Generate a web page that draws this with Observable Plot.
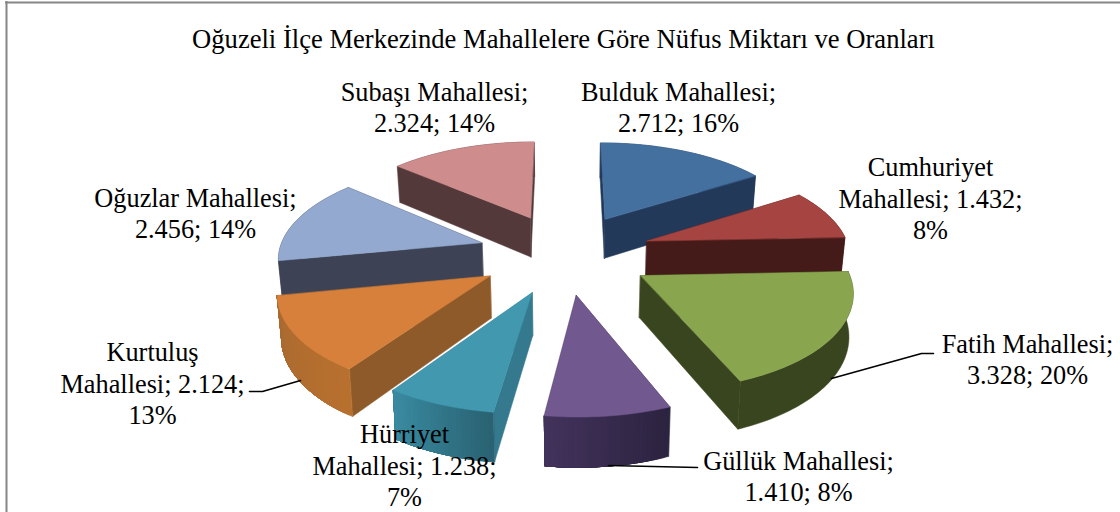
<!DOCTYPE html>
<html>
<head>
<meta charset="utf-8">
<script src="https://cdn.jsdelivr.net/npm/d3@7"></script>
<script src="https://cdn.jsdelivr.net/npm/@observablehq/plot@0.6"></script>
<style>html,body{margin:0;padding:0;background:#fff}svg{display:block}</style>
</head>
<body>
<div id="chart"></div>
<script>
// ---- data ----
const chartTitle = "Oğuzeli İlçe Merkezinde Mahallelere Göre Nüfus Miktarı ve Oranları";
const categories = ["Bulduk","Cumhuriyet","Fatih","Güllük","Hürriyet","Kurtuluş","Oğuzlar","Subaşı"];
const values = [2712,1432,3328,1410,1238,2124,2456,2324];
const labelLines = [
  "Bulduk Mahallesi;\n2.712; 16%",
  "Cumhuriyet\nMahallesi; 1.432;\n8%",
  "Fatih Mahallesi;\n3.328; 20%",
  "Güllük Mahallesi;\n1.410; 8%",
  "Hürriyet\nMahallesi; 1.238;\n7%",
  "Kurtuluş\nMahallesi; 2.124;\n13%",
  "Oğuzlar Mahallesi;\n2.456; 14%",
  "Subaşı Mahallesi;\n2.324; 14%"
];
// ---- styles ----
const topColors  = ["#44709F","#A54441","#89A54E","#71588F","#4198AF","#D6803B","#93A9CF","#CE8D8C"];
const wallColors = ["#22395A","#441B19","#38451E","#3B2D52","#35798E","#8E5A29","#3D4355","#53393A"];
const arcFrom    = ["#22395A","#441B19","#38451E","#2C2340","#2A6273","#B8702F","#3D4355","#53393A"];
const arcTo      = ["#22395A","#441B19","#38451E","#43335C","#3A8CA2","#A86A30","#3D4355","#53393A"];
// ---- layout ----
const labelX = [678,930,1027,798,404,152,195,434];
const labelY = [106,197,358,475,464,382,212,106];
const leaders = [
  {id:"fatih",   pts:[[831,378],[921,353],[933,353]]},
  {id:"gulluk",  pts:[[608,465],[697,467]]},
  {id:"kurtulus",pts:[[249,391],[262,391],[300,380]]}
];
const cx = 564.5, cy = 252.5, B = 203, A = 94, D = 7.82, explode = 0.43, T = 41, shrink = 0.985;

// perspective view of a point on the pie: X to the right, Y towards the viewer, lower = bottom face
const project = (X, Y, lower) => {
  const m = 1 / (1 - Y / D);
  const sx = B * X * m, sy = A * Y * m;
  return lower
    ? {x: cx + sx * shrink, y: cy + sy + T * m}
    : {x: cx + sx, y: cy + sy};
};
const total = d3.sum(values);
let run = 0;
const faces = [];
const slices = values.map((v, i) => {
  const a0 = run / total * 2 * Math.PI; run += v;
  const a1 = run / total * 2 * Math.PI;
  const mid = (a0 + a1) / 2;
  const ox = explode * Math.sin(mid), oy = -explode * Math.cos(mid);
  return {i, a0, a1, ox, oy};
});
slices.sort((p, q) => p.oy - q.oy);
const addFace = (id, color, pts) => pts.forEach(p => faces.push({face: id, color, x: p.x, y: p.y}));
for (const {i, a0, a1, ox, oy} of slices) {
  const rim = a => [ox + Math.sin(a), oy - Math.cos(a)];
  const n = Math.ceil((a1 - a0) / 0.02);
  const steps = d3.range(0, n + 1).map(k => a0 + (a1 - a0) * k / n);
  const radial = a => {
    const [X, Y] = rim(a);
    return {Y: (Y + oy) / 2, pts: [project(ox, oy), project(X, Y), project(X, Y, true), project(ox, oy, true)]};
  };
  const walls = [
    {key: "r0", ...radial(a0), color: wallColors[i]},
    {key: "r1", ...radial(a1), color: wallColors[i]},
    {key: "arc", Y: d3.mean(steps, a => rim(a)[1]), arc: true}
  ].sort((p, q) => p.Y - q.Y);
  for (const w of walls) {
    if (w.arc) {
      const shade = d3.interpolateRgb(arcFrom[i], arcTo[i]);
      // each band reaches to the end of the arc, so the next band paints over it without seams
      const bands = arcFrom[i] === arcTo[i] ? 1 : n;
      for (let k = 0; k < bands; k++) {
        const run = steps.slice(k).map(a => rim(a));
        addFace(`${i}-arc-${k}`, d3.color(shade(k / n)).formatHex(), [
          ...run.map(([X, Y]) => project(X, Y)),
          ...run.slice().reverse().map(([X, Y]) => project(X, Y, true))
        ]);
      }
    } else {
      addFace(`${i}-${w.key}`, w.color, w.pts);
    }
  }
  addFace(`${i}-top`, topColors[i], [project(ox, oy), ...steps.map(a => project(...rim(a)))]);
}

const labelRows = categories.map((c, i) => ({text: labelLines[i], x: labelX[i], y: labelY[i]}));
const leaderRows = leaders.flatMap(l => l.pts.map(([x, y]) => ({id: l.id, x, y})));
const font = "'Liberation Serif','Times New Roman',serif";

const plot = Plot.plot({
  width: 1120, height: 512, margin: 0,
  x: {domain: [0, 1120], range: [0, 1120], axis: null},
  y: {domain: [0, 512], range: [0, 512], axis: null},
  style: {background: "#fff"},
  marks: [
    Plot.ruleY([2], {x1: 5, x2: 1120, stroke: "#868686", strokeWidth: 2}),
    Plot.ruleX([6], {y1: 1, y2: 512, stroke: "#868686", strokeWidth: 2}),
    Plot.line(faces, {x: "x", y: "y", z: "face", fill: "color", stroke: "color", strokeWidth: 0.5, curve: "linear-closed"}),
    Plot.line(leaderRows, {x: "x", y: "y", z: "id", stroke: "#000", strokeWidth: 1.6}),
    Plot.text([chartTitle], {x: () => 563, y: () => 39, text: d => d, fontSize: 26.6, fontFamily: font, fill: "#000"}),
    Plot.text(labelRows, {x: "x", y: "y", text: "text", fontSize: 26.3, lineHeight: 1.19, fontFamily: font, fill: "#000"})
  ]
});
document.getElementById("chart").append(plot);
</script>
</body>
</html>
